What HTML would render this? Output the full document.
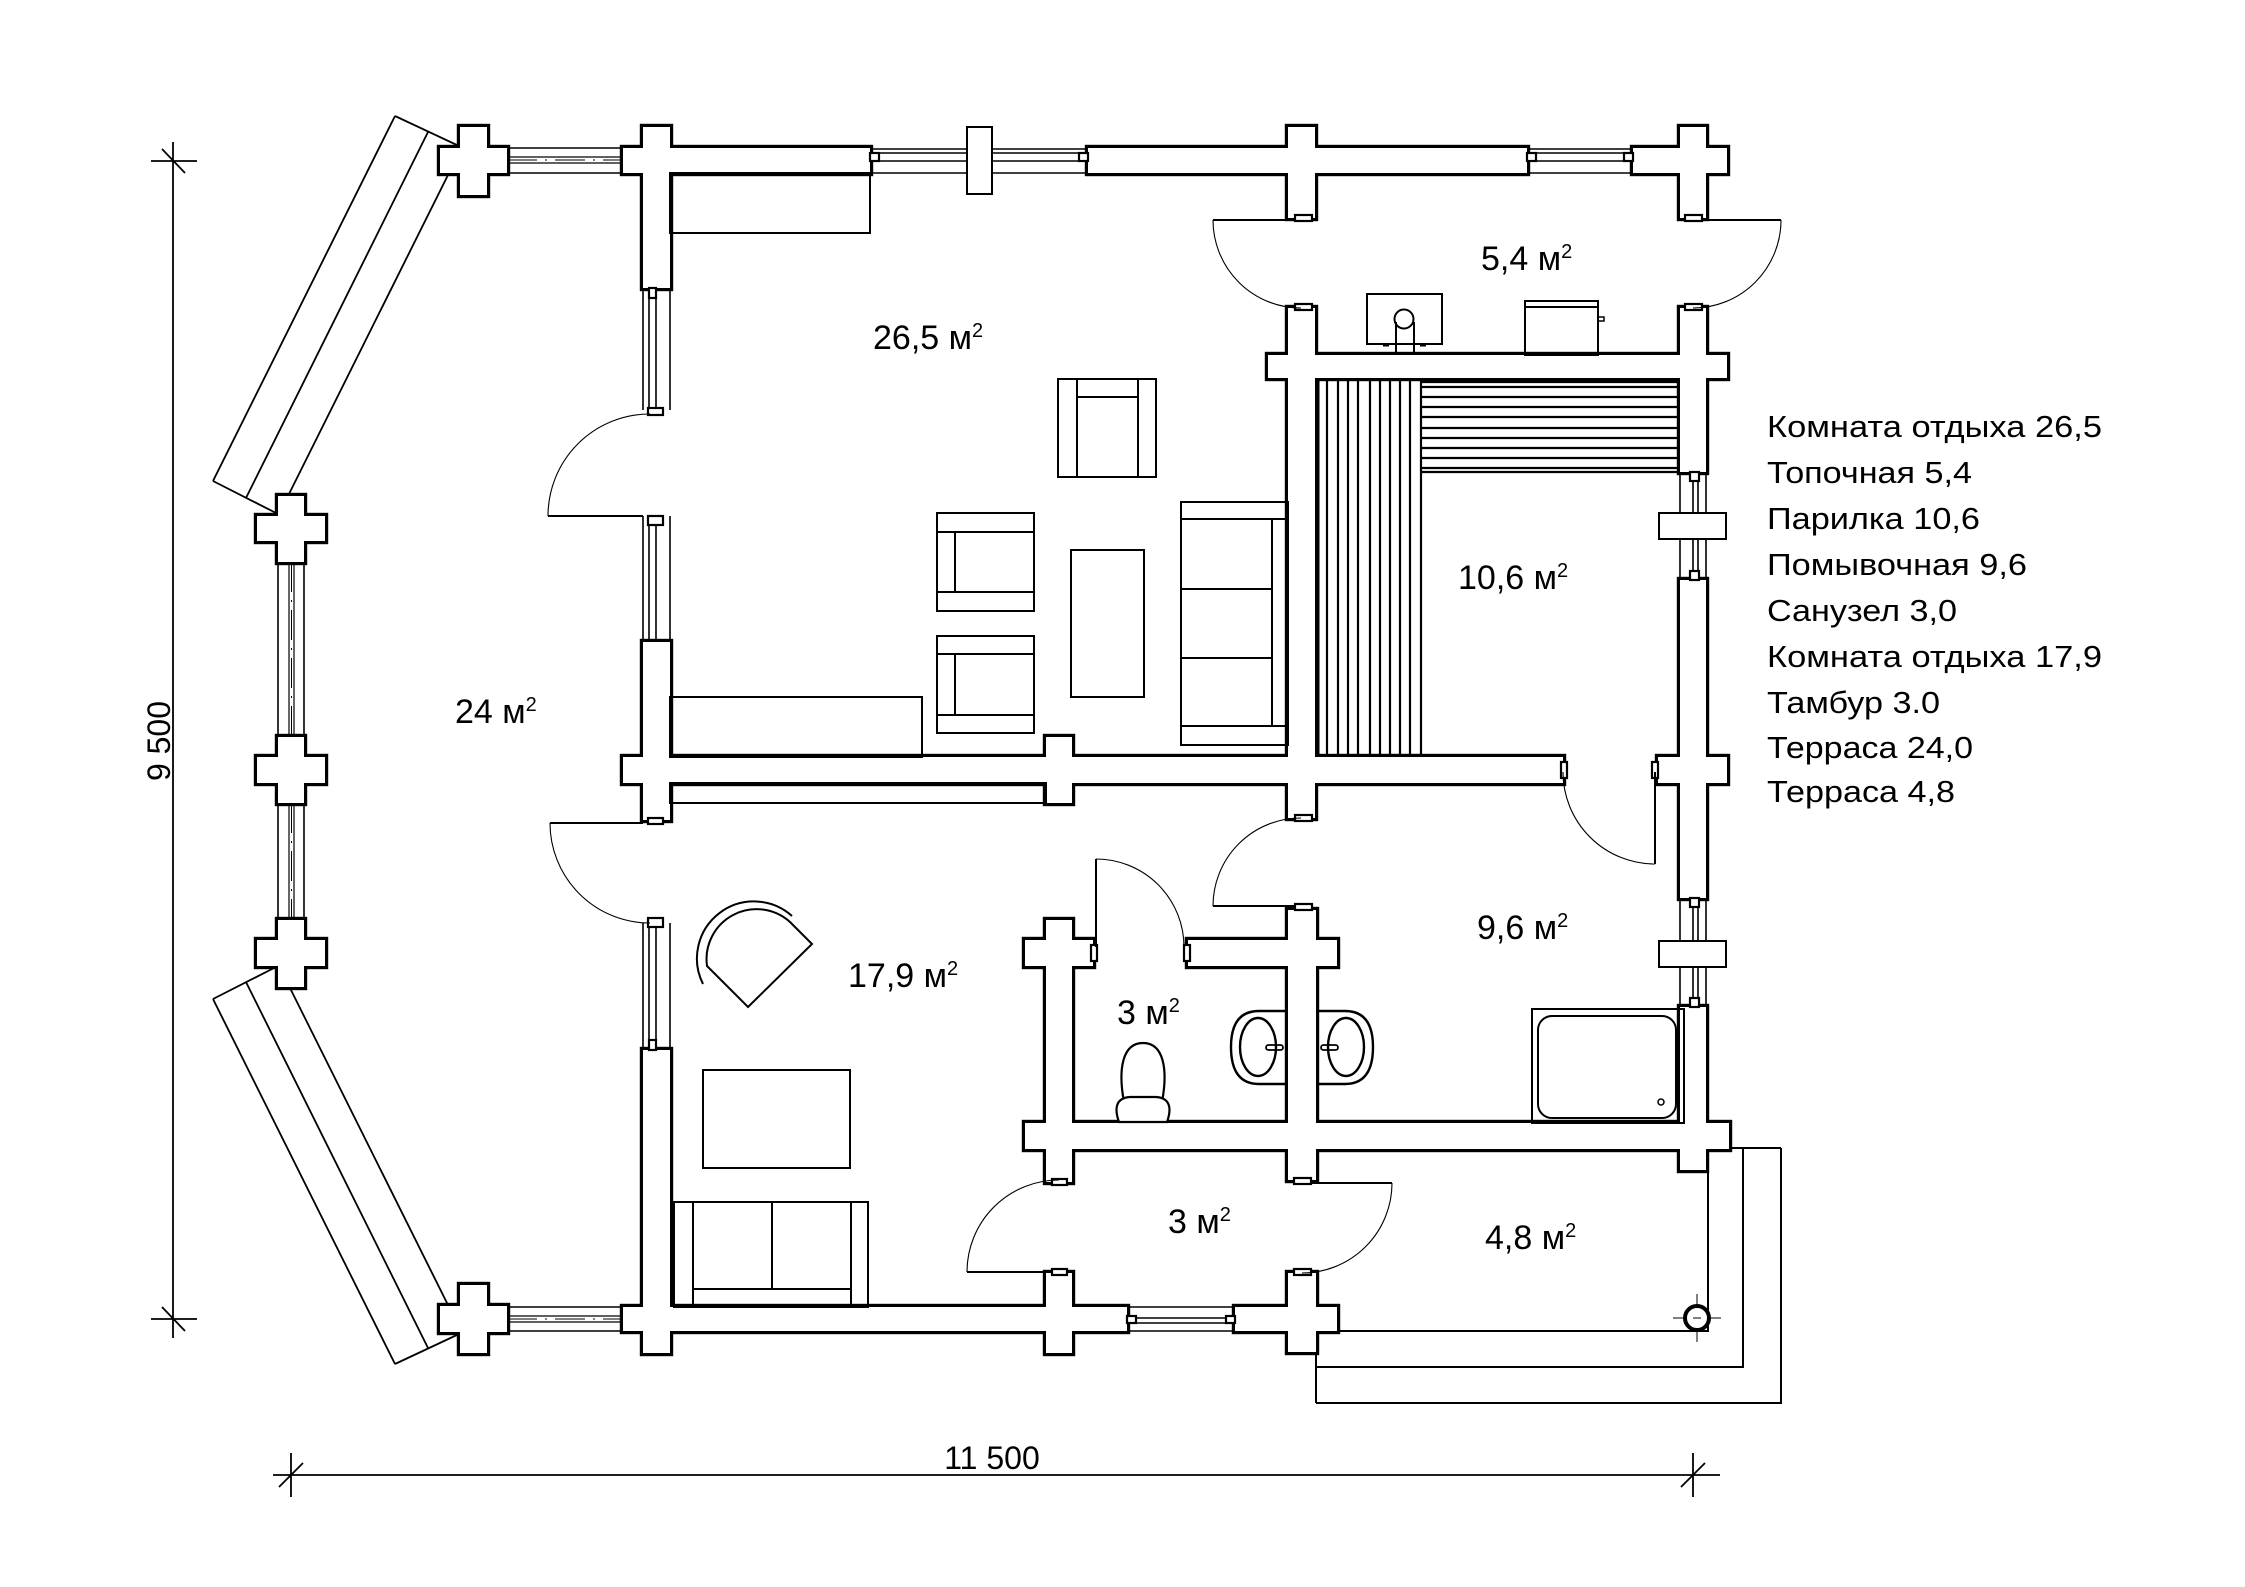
<!DOCTYPE html>
<html><head><meta charset="utf-8">
<style>
html,body{margin:0;padding:0;background:#fff;}
svg{display:block;}
text{font-family:"Liberation Sans",Arial,sans-serif;fill:#000;}
</style></head><body>
<svg width="2245" height="1587" viewBox="0 0 2245 1587" xmlns="http://www.w3.org/2000/svg">
<rect width="2245" height="1587" fill="#fff"/>

<!-- diagonal terrace panels -->
<g stroke="#000" stroke-width="1.8" fill="none">
<path d="M395,116 L213,481 M428,132 L246,498 M449,173 L288,496 M395,116 L459,146 M213,481 L278,514"/>
<path d="M395,1364 L213,999 M428,1348 L246,982 M449,1307 L288,984 M213,999 L278,966 M395,1364 L459,1334"/>
</g>

<!-- walls: black outline layer -->
<g stroke="#000" stroke-width="6.4" fill="#000" stroke-linejoin="miter">
<rect x="460" y="127" width="27" height="68"/><rect x="440" y="148" width="67" height="25"/>
<rect x="278" y="496" width="26" height="66"/><rect x="257" y="516" width="68" height="25"/>
<rect x="278" y="737" width="26" height="66"/><rect x="257" y="757" width="68" height="26"/>
<rect x="278" y="920" width="26" height="67"/><rect x="257" y="940" width="68" height="26"/>
<rect x="460" y="1285" width="27" height="68"/><rect x="440" y="1306" width="67" height="26"/>
<rect x="643" y="127" width="27" height="161"/>
<rect x="623" y="148" width="247" height="25"/>
<rect x="1088" y="148" width="439" height="25"/>
<rect x="1288" y="127" width="27" height="91"/>
<rect x="1633" y="148" width="94" height="25"/>
<rect x="1680" y="127" width="26" height="91"/>
<rect x="1268" y="355" width="459" height="23"/>
<rect x="1288" y="308" width="27" height="510"/>
<rect x="1680" y="308" width="26" height="164"/>
<rect x="623" y="757" width="940" height="26"/>
<rect x="643" y="642" width="27" height="178"/>
<rect x="1046" y="737" width="26" height="66"/>
<rect x="1680" y="580" width="26" height="318"/>
<rect x="1658" y="757" width="69" height="26"/>
<rect x="643" y="1050" width="27" height="303"/>
<rect x="623" y="1307" width="504" height="24"/>
<rect x="1046" y="1273" width="26" height="80"/>
<rect x="1235" y="1307" width="102" height="24"/>
<rect x="1288" y="1273" width="28" height="79"/>
<rect x="1046" y="920" width="26" height="262"/>
<rect x="1025" y="940" width="68" height="26"/>
<rect x="1025" y="1123" width="704" height="26"/>
<rect x="1188" y="940" width="149" height="26"/>
<rect x="1288" y="910" width="28" height="270"/>
<rect x="1680" y="1007" width="26" height="163"/>
</g>
<!-- walls: white fill layer -->
<g fill="#fff" stroke="none">
<rect x="460" y="127" width="27" height="68"/><rect x="440" y="148" width="67" height="25"/>
<rect x="278" y="496" width="26" height="66"/><rect x="257" y="516" width="68" height="25"/>
<rect x="278" y="737" width="26" height="66"/><rect x="257" y="757" width="68" height="26"/>
<rect x="278" y="920" width="26" height="67"/><rect x="257" y="940" width="68" height="26"/>
<rect x="460" y="1285" width="27" height="68"/><rect x="440" y="1306" width="67" height="26"/>
<rect x="643" y="127" width="27" height="161"/>
<rect x="623" y="148" width="247" height="25"/>
<rect x="1088" y="148" width="439" height="25"/>
<rect x="1288" y="127" width="27" height="91"/>
<rect x="1633" y="148" width="94" height="25"/>
<rect x="1680" y="127" width="26" height="91"/>
<rect x="1268" y="355" width="459" height="23"/>
<rect x="1288" y="308" width="27" height="510"/>
<rect x="1680" y="308" width="26" height="164"/>
<rect x="623" y="757" width="940" height="26"/>
<rect x="643" y="642" width="27" height="178"/>
<rect x="1046" y="737" width="26" height="66"/>
<rect x="1680" y="580" width="26" height="318"/>
<rect x="1658" y="757" width="69" height="26"/>
<rect x="643" y="1050" width="27" height="303"/>
<rect x="623" y="1307" width="504" height="24"/>
<rect x="1046" y="1273" width="26" height="80"/>
<rect x="1235" y="1307" width="102" height="24"/>
<rect x="1288" y="1273" width="28" height="79"/>
<rect x="1046" y="920" width="26" height="262"/>
<rect x="1025" y="940" width="68" height="26"/>
<rect x="1025" y="1123" width="704" height="26"/>
<rect x="1188" y="940" width="149" height="26"/>
<rect x="1288" y="910" width="28" height="270"/>
<rect x="1680" y="1007" width="26" height="163"/>
</g>

<!-- windows -->
<g stroke="#000" stroke-width="1.6" fill="none">
<path d="M507,148 H623 M507,173 H623 M507,1307 H623 M507,1331 H623"/>
<path d="M507,157 H623 M507,163 H623 M507,1316 H623 M507,1322 H623" stroke-width="1.2"/>
<path d="M507,160 H623 M507,1319 H623" stroke-width="1" stroke-dasharray="30,8,2,8"/>
<path d="M278,562 V737 M304,562 V737 M278,803 V920 M304,803 V920"/>
<path d="M289,562 V737 M294,562 V737 M289,803 V920 M294,803 V920" stroke-width="1.2"/>
<path d="M291.5,562 V737 M291.5,803 V920" stroke-width="1" stroke-dasharray="30,8,2,8"/>
<path d="M870,149 H1088 M870,173 H1088 M1527,149 H1633 M1527,173 H1633"/>
<path d="M870,153 H1088 M870,161 H1088 M1527,153 H1633 M1527,161 H1633" stroke-width="1.4"/>
<path d="M1127,1307 H1235 M1127,1331 H1235 M1127,1318 H1235 M1127,1323 H1235"/>
<path d="M643,288 V410 M670,288 V410 M649,288 V410 M656,288 V410"/>
<path d="M643,516 V642 M670,516 V642 M649,516 V642 M656,516 V642"/>
<path d="M643,923 V1050 M670,923 V1050 M649,923 V1050 M656,923 V1050"/>
<path d="M1680,472 V580 M1706,472 V580 M1693,472 V580 M1698,472 V580"/>
<path d="M1680,898 V1007 M1706,898 V1007 M1693,898 V1007 M1698,898 V1007"/>
</g>
<!-- window posts -->
<g stroke="#000" stroke-width="2" fill="#fff">
<rect x="967" y="127" width="25" height="67"/>
<rect x="1659" y="513" width="67" height="26"/>
<rect x="1659" y="941" width="67" height="26"/>
</g>
<!-- jamb markers -->
<g stroke="#000" stroke-width="2.2" fill="#fff">
<rect x="1295" y="215" width="17" height="6"/><rect x="1295" y="304" width="17" height="6"/>
<rect x="1685" y="215" width="17" height="6"/><rect x="1685" y="304" width="17" height="6"/>
<rect x="648" y="408" width="15" height="7"/><rect x="648" y="516" width="15" height="9"/>
<rect x="648" y="818" width="15" height="6"/><rect x="648" y="918" width="15" height="9"/>
<rect x="1295" y="815" width="17" height="6"/><rect x="1295" y="904" width="17" height="6"/>
<rect x="1091" y="945" width="6" height="16"/><rect x="1184" y="945" width="6" height="16"/>
<rect x="1052" y="1179" width="15" height="6"/><rect x="1052" y="1269" width="15" height="6"/>
<rect x="1294" y="1178" width="17" height="6"/><rect x="1294" y="1269" width="17" height="6"/>
<rect x="1561" y="762" width="6" height="16"/><rect x="1652" y="762" width="6" height="16"/>
<rect x="870" y="153" width="9" height="8"/><rect x="1079" y="153" width="9" height="8"/>
<rect x="1527" y="153" width="9" height="8"/><rect x="1624" y="153" width="9" height="8"/>
<rect x="1690" y="472" width="9" height="9"/><rect x="1690" y="571" width="9" height="9"/>
<rect x="1690" y="898" width="9" height="9"/><rect x="1690" y="998" width="9" height="9"/>
<rect x="649" y="288" width="7" height="10"/><rect x="649" y="1040" width="7" height="10"/>
<rect x="1127" y="1316" width="9" height="7"/><rect x="1226" y="1316" width="9" height="7"/>
</g>

<!-- doors -->
<g stroke="#000" fill="none">
<path stroke-width="2" d="M548,516 H643 M550,823 H643 M1213,220 H1288 M1706,220 H1781 M1655,772 V864 M1213,906 H1295 M1096,859 V947 M967,1272 H1052 M1310,1183 H1392"/>
<path stroke-width="1.1" d="M548,516 A102,102 0 0 1 650,414 M550,823 A100,100 0 0 0 650,923 M1213,220 A88,88 0 0 0 1301,308 M1781,220 A88,88 0 0 1 1693,308 M1655,864 A92,92 0 0 1 1563,772 M1213,906 A88,88 0 0 1 1301,818 M1096,859 A88,88 0 0 1 1184,947 M967,1272 A92,92 0 0 1 1059,1180 M1392,1183 A90,90 0 0 1 1302,1273"/>
</g>

<!-- furniture -->
<g stroke="#000" stroke-width="2" fill="none">
<rect x="670" y="173" width="200" height="60"/>
<rect x="1058" y="379" width="98" height="98"/>
<path d="M1077,379 V477 M1138,379 V477 M1077,397 H1138"/>
<rect x="937" y="513" width="97" height="98"/>
<path d="M937,532 H1034 M937,592 H1034 M955,532 V592"/>
<rect x="937" y="636" width="97" height="97"/>
<path d="M937,654 H1034 M937,715 H1034 M955,654 V715"/>
<rect x="1071" y="550" width="73" height="147"/>
<rect x="1181" y="502" width="107" height="243"/>
<path d="M1181,519 H1288 M1181,726 H1288 M1181,589 H1272 M1181,658 H1272 M1272,519 V726"/>
<rect x="670" y="697" width="252" height="60"/>
<rect x="670" y="783" width="376" height="20"/>
<path d="M748,1007 L812,944 L790,922 A50,50 0 0 0 707,966 Z"/>
<path d="M792,916 A57,57 0 0 0 703,984"/>
<rect x="703" y="1070" width="147" height="98"/>
<rect x="674" y="1202" width="194" height="105"/>
<path d="M693,1202 V1307 M851,1202 V1307 M693,1289 H851 M772,1202 V1289"/>
<rect x="1367" y="294" width="75" height="50"/>
<circle cx="1404" cy="319" r="9.5"/>
<path d="M1396,322 V355 M1414,322 V355"/>
<path d="M1383,345 H1389 M1420,345 H1426" stroke-width="3"/>
<rect x="1525" y="301" width="73" height="54"/>
<path d="M1525,307 H1598"/>
<rect x="1598" y="317" width="6" height="4" stroke-width="1.5"/>
<path d="M1288,1011 H1259 Q1231,1011 1231,1047 Q1231,1084 1259,1084 H1288" stroke-width="2.4"/>
<ellipse cx="1258" cy="1047" rx="18" ry="29" stroke-width="2.4"/>
<rect x="1266" y="1045" width="17" height="5" rx="2.5" stroke-width="1.8"/>
<path d="M1316,1011 H1345 Q1373,1011 1373,1047 Q1373,1084 1345,1084 H1316" stroke-width="2.4"/>
<ellipse cx="1346" cy="1047" rx="18" ry="29" stroke-width="2.4"/>
<rect x="1321" y="1045" width="17" height="5" rx="2.5" stroke-width="1.8"/>
<path d="M1124,1102 C1118,1070 1122,1043 1143,1043 C1164,1043 1168,1070 1162,1102" stroke-width="2.2"/>
<path d="M1119,1122 C1114,1108 1116,1098 1130,1097 H1156 C1170,1098 1172,1108 1167,1122 Z" fill="#fff" stroke-width="2.2"/>
<rect x="1532" y="1009" width="152" height="114"/>
<rect x="1538" y="1016" width="138" height="102" rx="14"/>
<circle cx="1661" cy="1102" r="3" stroke-width="1.5"/>
</g>

<!-- sauna benches -->
<g stroke="#000" stroke-width="2.2" fill="none">
<path d="M1327,380 V757 M1338,380 V757 M1348,380 V757 M1358,380 V757 M1370,380 V757 M1380,380 V757 M1390,380 V757 M1400,380 V757 M1410,380 V757 M1421,380 V757"/>
<path d="M1421,382 H1680 M1421,387 H1680 M1421,397 H1680 M1421,407 H1680 M1421,417 H1680 M1421,428 H1680 M1421,438 H1680 M1421,448 H1680 M1421,458 H1680 M1421,468 H1680 M1421,472 H1680"/>
<path d="M1318,380 V757" stroke-width="3"/>
</g>

<!-- terrace 4.8 -->
<g stroke="#000" stroke-width="2" fill="none">
<path d="M1708,1170 V1331 H1337 M1743,1148 V1367 H1316 M1781,1148 V1403 H1316 M1729,1148 H1781 M1316,1352 V1403"/>
<path d="M1673,1318 H1721 M1697,1294 V1342" stroke-width="1"/>
</g>
<circle cx="1697" cy="1318" r="12" fill="#fff" stroke="#000" stroke-width="4"/>
<path d="M1693,1318 H1701" stroke="#000" stroke-width="1"/>

<!-- dimension lines -->
<g stroke="#000" stroke-width="1.8" fill="none">
<path d="M173,142 V1338 M151,161 H197 M151,1319 H197 M162,149 L185,173 M162,1307 L185,1331"/>
<path d="M273,1475 H1720 M291,1453 V1497 M1693,1453 V1497 M279,1487 L303,1463 M1681,1487 L1705,1463"/>
</g>
<text x="170" y="741" font-size="32" text-anchor="middle" transform="rotate(-90 170 741)">9 500</text>
<text x="992" y="1469" font-size="32" text-anchor="middle">11 500</text>

<!-- room labels -->
<g font-size="34">
<text x="873" y="349">26,5 м<tspan dy="-12" font-size="20">2</tspan></text>
<text x="1481" y="270">5,4 м<tspan dy="-12" font-size="20">2</tspan></text>
<text x="1458" y="589">10,6 м<tspan dy="-12" font-size="20">2</tspan></text>
<text x="1477" y="939">9,6 м<tspan dy="-12" font-size="20">2</tspan></text>
<text x="455" y="723">24 м<tspan dy="-12" font-size="20">2</tspan></text>
<text x="848" y="987">17,9 м<tspan dy="-12" font-size="20">2</tspan></text>
<text x="1117" y="1024">3 м<tspan dy="-12" font-size="20">2</tspan></text>
<text x="1168" y="1233">3 м<tspan dy="-12" font-size="20">2</tspan></text>
<text x="1485" y="1249">4,8 м<tspan dy="-12" font-size="20">2</tspan></text>
</g>

<!-- legend -->
<g font-size="31">
<text x="1767" y="437" textLength="335" lengthAdjust="spacingAndGlyphs">Комната отдыха 26,5</text>
<text x="1767" y="483" textLength="205" lengthAdjust="spacingAndGlyphs">Топочная 5,4</text>
<text x="1767" y="529" textLength="213" lengthAdjust="spacingAndGlyphs">Парилка 10,6</text>
<text x="1767" y="575" textLength="260" lengthAdjust="spacingAndGlyphs">Помывочная 9,6</text>
<text x="1767" y="621" textLength="190" lengthAdjust="spacingAndGlyphs">Санузел 3,0</text>
<text x="1767" y="667" textLength="335" lengthAdjust="spacingAndGlyphs">Комната отдыха 17,9</text>
<text x="1767" y="713" textLength="173" lengthAdjust="spacingAndGlyphs">Тамбур 3.0</text>
<text x="1767" y="758" textLength="206" lengthAdjust="spacingAndGlyphs">Терраса 24,0</text>
<text x="1767" y="802" textLength="188" lengthAdjust="spacingAndGlyphs">Терраса 4,8</text>
</g>
</svg>
</body></html>
